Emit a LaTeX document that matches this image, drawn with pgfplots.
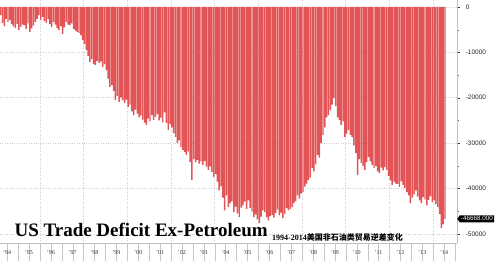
\documentclass[border=0pt]{standalone}
\usepackage{pgfplots}
\usepackage{pgfplotstable}
\pgfplotsset{compat=1.18}
\usepackage{fontspec}
\setmainfont{Liberation Serif}
\newfontfamily\sans{Liberation Sans}
\newfontfamily\cjk{Noto Sans CJK SC}
\usetikzlibrary{shapes.symbols}
\definecolor{barred}{RGB}{226,84,86}

\pgfplotstableread{
v
-1800
-3500
-4200
-2600
-3300
-2900
-3800
-4300
-4600
-3700
-5100
-4400
-3900
-4000
-4800
-3600
-5500
-4700
-4100
-3300
-2600
-1800
-2900
-2200
-3100
-3500
-2700
-3800
-4400
-3300
-3900
-4600
-5100
-4200
-6000
-4500
-3300
-3900
-4000
-3600
-4800
-5200
-5500
-5700
-6200
-7300
-8200
-9500
-10800
-12100
-11500
-12600
-12800
-11900
-12300
-12000
-13200
-12600
-13900
-15800
-17600
-17200
-18500
-20500
-19600
-20900
-19900
-20600
-21200
-20400
-22000
-21500
-23000
-23800
-22600
-23500
-24300
-23900
-24800
-25500
-26000
-24600
-25200
-23800
-24900
-24200
-23600
-25000
-24400
-25400
-23200
-25600
-27100
-25800
-26500
-27800
-28600
-30000
-29400
-30900
-31500
-32000
-32600
-31800
-34100
-38100
-33500
-34200
-33700
-34500
-34000
-34800
-33900
-35200
-35900
-35100
-36400
-37500
-36800
-38500
-40400
-39500
-42000
-44800
-41500
-44100
-43200
-42800
-45200
-44000
-45500
-46300
-44200
-43700
-42900
-44500
-42600
-44300
-45100
-46300
-45700
-46800
-47600
-46200
-44800
-45200
-46300
-47000
-46100
-45800
-46400
-45400
-44600
-45900
-45300
-46500
-45600
-44300
-44800
-44500
-44100
-43200
-42800
-41500
-42200
-41100
-40800
-39600
-38900
-38100
-37600
-35500
-36200
-34700
-32600
-33200
-30000
-28200
-26500
-24300
-23800
-22700
-21500
-20100
-21800
-24300
-24900
-26000
-25200
-28700
-27900
-27100
-28200
-28700
-30500
-32200
-37000
-33500
-34400
-35000
-35900
-34200
-33100
-34000
-34800
-35500
-35000
-36200
-36600
-35400
-36000
-35300
-35900
-37200
-38200
-39200
-38500
-38900
-39000
-39700
-38400
-39200
-39900
-40800
-41500
-43200
-42000
-41300
-40400
-41800
-42600
-43200
-41900
-42400
-43700
-42500
-41700
-43000
-42600
-43500
-44100
-45600
-48700
-47900
-46668
}\datatable

\begin{document}
\begin{tikzpicture}
\useasboundingbox (0pt,-18pt) rectangle (500pt,243pt);
\begin{axis}[
  scale only axis, width=457pt, height=243pt,
  at={(0pt,0pt)}, anchor=south west,
  xmin=1994.176, xmax=2015.09,
  ymin=-52000, ymax=1540,
  scaled y ticks=false, scaled x ticks=false,
  axis x line*=bottom, axis y line*=right,
  axis line style={gray!50},
  tick align=outside,
  xtick={1995,1996,...,2015},
  xticklabels={},
  xtick style={draw=gray!45, /pgfplots/major tick length=18pt},
  extra x ticks={1994.5,1995.5,1996.5,1997.5,1998.5,1999.5,2000.5,2001.5,2002.5,2003.5,2004.5,2005.5,2006.5,2007.5,2008.5,2009.5,2010.5,2011.5,2012.5,2013.5,2014.5},
  extra x tick labels={'94,'95,'96,'97,'98,'99,'00,'01,'02,'03,'04,'05,'06,'07,'08,'09,'10,'11,'12,'13,'14},
  extra x tick style={/pgfplots/major tick length=0pt, grid=none, xticklabel style={yshift=-4pt}},
  xticklabel style={font=\fontsize{6}{7}\selectfont, text=black!80},
  minor xtick={1996,1998,2000,2002,2004,2006,2008,2010,2012,2014},
  minor x tick style={draw=none},
  xminorgrids=true,
  minor x grid style={dotted, line width=0.6pt, gray!40},
  ytick={-50000,-40000,-30000,-20000,-10000,0},
  yticklabels={-50000,-40000,-30000,-20000,-10000,0},
  minor y tick num=1,
  ytick style={draw=black!80, /pgfplots/major tick length=3pt},
  minor y tick style={draw=black!60, /pgfplots/minor tick length=2pt},
  ymajorgrids=true,
  major y grid style={dotted, line width=0.6pt, gray!40},
  yticklabel style={font=\sans\fontsize{6.5}{7}\selectfont, text=black!85, xshift=1pt},
  clip=false,
]
\addplot[ybar, bar width=1.45pt, fill=barred, draw=none]
  table[x expr={1994+(\coordindex+2.5)/12}, y=v] {\datatable};
\node[signal, signal to=west, signal pointer angle=110, fill=black, text=white,
      font=\sans\fontsize{6.3}{7}\selectfont, inner xsep=1.2pt, inner ysep=1.3pt, anchor=west]
  at (axis cs:2015.09,-46668) {-46668.000};
\end{axis}
\node[anchor=base west, font=\fontsize{19}{20}\selectfont\bfseries] at (11pt,6pt) {US Trade Deficit Ex-Petroleum};
\node[anchor=base west, inner sep=0pt, font=\fontsize{8}{9}\selectfont\bfseries] at (272pt,2.5pt) {1994-2014{\cjk\bfseries 美国非石油类贸易逆差变化}};
\end{tikzpicture}
\end{document}
